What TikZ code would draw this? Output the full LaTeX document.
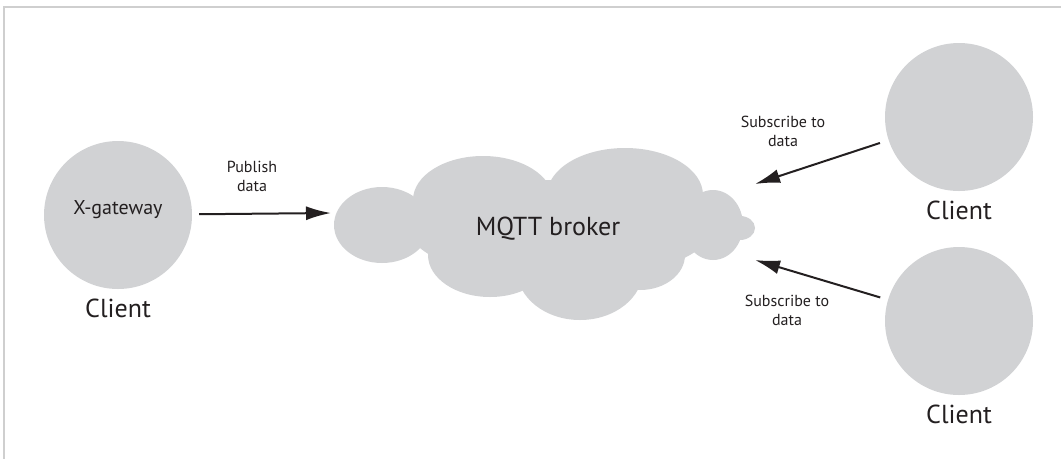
\documentclass[tikz,border=0pt]{standalone}
\usepackage{fontspec}
\setmainfont{PT Sans}
\usepackage{tikz}
\usetikzlibrary{arrows.meta}

\definecolor{blobgray}{HTML}{D1D2D4}
\definecolor{inkdark}{HTML}{231F20}
\definecolor{framegray}{HTML}{CFCFCF}

\begin{document}
\begin{tikzpicture}[x=1pt, y=-1pt,
    client/.style={circle, fill=blobgray, minimum size=148pt, inner sep=0pt},
    caption/.style={text=inkdark, font=\fontsize{26}{28}\selectfont},
    note/.style={text=inkdark, align=center, font=\fontsize{16}{19}\selectfont},
    flow/.style={line width=2pt, inkdark, -{Latex[length=25pt,width=14pt]}}]
    \useasboundingbox (0,0) rectangle (1061,459);
    \draw[framegray, line width=1.5pt] (1061,7) -- (4,7) -- (4,459);
    % broker cloud
    \fill[blobgray] (382,225) ellipse (48 and 38);
    \fill[blobgray] (483,200) ellipse (70 and 44);
    \fill[blobgray] (625,195) ellipse (78 and 47);
    \fill[blobgray] (713,225) ellipse (30 and 35);
    \fill[blobgray] (740,228) ellipse (15 and 12);
    \fill[blobgray] (490,255) ellipse (62 and 42);
    \fill[blobgray] (580,270) ellipse (63 and 50);
    \fill[blobgray] (640,255) ellipse (45 and 35);
    \fill[blobgray] (560,230) ellipse (150 and 50);
    \node[caption] (broker) at (548,229) {MQTT broker};
    \coordinate (brokerW) at (331,213);
    \coordinate (brokerNE) at (755,184);
    \coordinate (brokerSE) at (755,260);
    % clients
    \node[client] (gateway) at (118,215) {};
    \node[text=inkdark, font=\fontsize{20}{22}\selectfont] (gwname) at (118,210) {X-gateway};
    \node[caption] (gwlabel) at (118,308) {Client};
    \node[client] (sub1) at (959,117) {};
    \node[caption] (sub1label) at (959,210) {Client};
    \node[client] (sub2) at (959,321) {};
    \node[caption] (sub2label) at (959,414) {Client};
    % connectors
    \draw[flow, shorten <=7pt] (gateway) -- (brokerW);
    \draw[flow, shorten <=9pt] (sub1) -- (brokerNE);
    \draw[flow, shorten <=8pt] (sub2) -- (brokerSE);
    \node[note] (pubtext) at (252,176) {Publish\\data};
    \node[note] (sub1text) at (783,131) {Subscribe to\\data};
    \node[note] (sub2text) at (787,310) {Subscribe to\\data};
\end{tikzpicture}
\end{document}
